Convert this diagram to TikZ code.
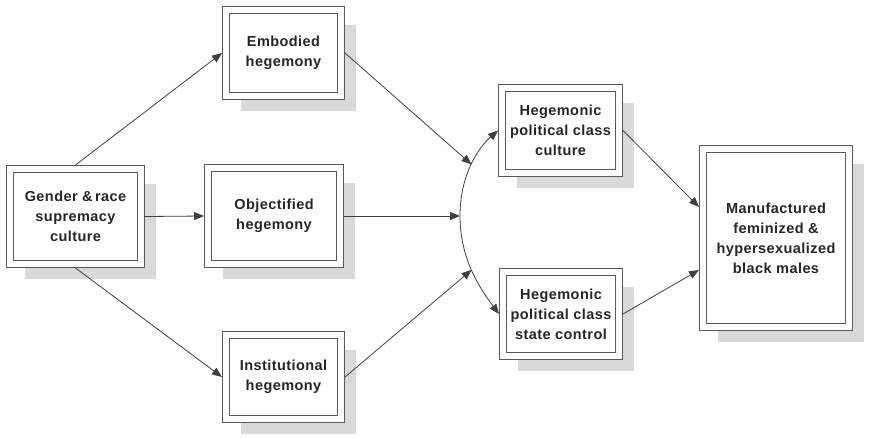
\documentclass[tikz,border=0pt]{standalone}
\usepackage{fontspec}
\setmainfont{Liberation Sans}[LetterSpace=3]
\usetikzlibrary{arrows.meta,shadows,calc}
\tikzset{
  hbox/.style={rectangle, draw=black!65, line width=1.1pt, double=white,
    double distance=5.8pt, fill=white, inner sep=0pt, outer sep=4pt,
    align=center, text=black!85,
    font=\bfseries\fontsize{14.5}{20}\selectfont,
    drop shadow={shadow xshift=15pt, shadow yshift=-15pt, fill=black!15, opacity=1}},
  conn/.style={draw=black!75, line width=0.8pt},
  arr/.style={conn, -{Triangle[length=10pt,width=8pt]}}
}
\begin{document}
\begin{tikzpicture}[x=1pt,y=-1pt]
\useasboundingbox (0,0) rectangle (869,437);
\node[hbox, minimum width=131pt, minimum height=95pt] (gender) at (75.5,216.5) {Gender \&\,race\\supremacy\\culture};
\node[hbox, minimum width=115pt, minimum height=86pt] (emb) at (283.5,53) {Embodied\\hegemony};
\node[hbox, minimum width=132pt, minimum height=96pt] (obj) at (274,216) {Objectified\\hegemony};
\node[hbox, minimum width=115pt, minimum height=84pt] (inst) at (283.5,377) {Institutional\\hegemony};
\node[hbox, minimum width=117pt, minimum height=85pt] (cult) at (560.5,130.5) {Hegemonic\\political class\\culture};
\node[hbox, minimum width=116pt, minimum height=84pt] (state) at (561,314) {Hegemonic\\political class\\state control};
\node[hbox, minimum width=146pt, minimum height=178pt] (manuf) at (776,238) {Manufactured\\feminized \&\\hypersexualized\\black males};

\coordinate (m) at (460,216);
\draw[arr] (m) .. controls (460,175) and (478,148) .. coordinate[pos=0.5] (e1) (cult.west);
\draw[arr] (m) .. controls (460,257) and (478,286) .. coordinate[pos=0.5] (e3) (state.west);

\draw[arr] (gender.north) -- (emb.west);
\draw[arr] (gender.east) -- (obj.west);
\draw[arr] (gender.south) -- (inst.west);
\draw[arr] (emb.east) -- (e1);
\draw[arr] (obj.east) -- (m);
\draw[arr] (inst.east) -- (e3);
\draw[arr] (cult.east) -- ([yshift=31pt]manuf.west);
\draw[arr] (state.east) -- ([yshift=-32pt]manuf.west);
\end{tikzpicture}
\end{document}
